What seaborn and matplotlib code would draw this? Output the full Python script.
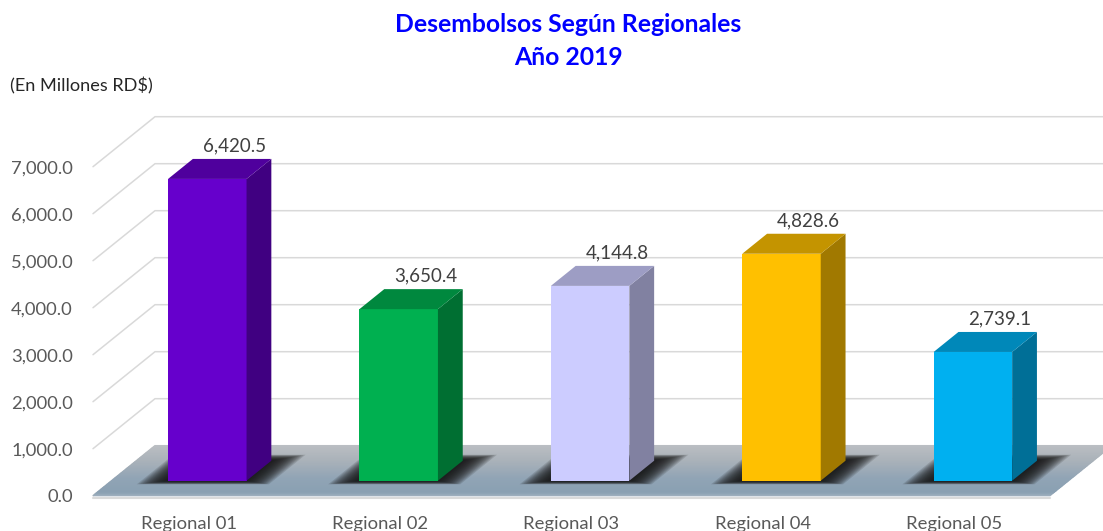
import numpy as np
import pandas as pd
import matplotlib
matplotlib.use("Agg")
import matplotlib.pyplot as plt
import seaborn as sns
from matplotlib.patches import Polygon
from matplotlib.transforms import ScaledTranslation
from matplotlib.colors import to_rgb

# datos del grafico
regionales = ["Regional 01", "Regional 02", "Regional 03", "Regional 04", "Regional 05"]
desembolsos = [6420.5, 3650.4, 4144.8, 4828.6, 2739.1]
colores = ["#6600CC", "#00B050", "#CCCCFF", "#FFC000", "#00B0F0"]
ticks_y = [0, 1000, 2000, 3000, 4000, 5000, 6000, 7000]

W, H, DPI = 1103, 531, 100
PX_CAT = 191.4          # pixeles por categoria
PX_VAL = 0.047          # pixeles por unidad de valor
DX = 62 / PX_CAT        # profundidad total del piso (en unidades de datos)
DY = 50 / PX_VAL
F = 0.3                 # posicion del frente de las barras en la profundidad
PROF = 0.4              # profundidad de cada barra
ANCHO = 0.41


def proj(x, v, t):
    # t = 0 frente del piso, t = 1 pared del fondo
    return x + (t - F) * DX, v + (t - F) * DY


def oscurecer(c, f):
    r, g, b = to_rgb(c)
    return (r * f, g * f, b * f)


sns.set_style("white")
plt.rcParams["font.family"] = ["Lato", "DejaVu Sans"]

fig = plt.figure(figsize=(W / DPI, H / DPI), dpi=DPI)
y_min, y_max = -400, 8000
ax = fig.add_axes([111.6 / W, (H - 480.7 - (-y_min) * PX_VAL) / H,
                   5 * PX_CAT / W, (y_max - y_min) * PX_VAL / H])

df = pd.DataFrame({"regional": regionales, "monto": desembolsos})
sns.barplot(data=df, x="regional", y="monto", hue="regional", palette=colores,
            saturation=1, width=ANCHO, dodge=False, legend=False, linewidth=0, ax=ax)

# lineas de division (pared lateral y del fondo)
for v in ticks_y:
    p0 = proj(-0.5, v, 0)
    p1 = proj(-0.5, v, 1)
    p2 = proj(4.6, v, 1)
    ax.plot([p0[0], p1[0], p2[0]], [p0[1], p1[1], p2[1]], color="#D9D9D9",
            lw=1.1, zorder=0, clip_on=False)

# piso con degradado (franjas de frente a fondo)
paradas = [(0.0, "#A0B1BF"), (0.08, "#8AA0B2"), (0.35, "#90A4B5"), (0.7, "#A9B1B9"), (1.0, "#BABEC2")]
n_fr = 40
for i in range(n_fr):
    t0, t1 = i / n_fr, (i + 1) / n_fr
    tm = (t0 + t1) / 2
    c = [np.interp(tm, [p for p, _ in paradas], [to_rgb(cc)[k] for _, cc in paradas]) for k in range(3)]
    franja = [proj(-0.5, 0, t0), proj(4.5, 0, t0), proj(4.5, 0, t1), proj(-0.5, 0, t1)]
    ax.add_patch(Polygon(franja, closed=True, facecolor=c, edgecolor=c, linewidth=0.9,
                         zorder=1, clip_on=False))
frente_izq, frente_der = proj(-0.5, 0, 0), proj(4.5, 0, 0)
ax.plot([frente_izq[0], frente_der[0]], [frente_izq[1] - 45, frente_der[1] - 45],
        color="#DADADA", lw=1.5, zorder=1, clip_on=False)

# sombras, caras laterales y superiores
bdx, bdy = PROF * DX, PROF * DY
barras = ax.patches[:len(desembolsos)]
for p, color in zip(barras, colores):
    x0, w, h = p.get_x(), p.get_width(), p.get_height()
    x1 = x0 + w
    p.set_zorder(4)
    n = 16
    for k in range(n):
        e = 0.14 * (1 - k / n)
        et = 0.12 * (1 - k / n)
        sombra = [proj(x0 - e, 0, F - et * 0.6), proj(x1 + e, 0, F - et * 0.6),
                  proj(x1 + e, 0, F + PROF + et), proj(x0 - e, 0, F + PROF + et)]
        ax.add_patch(Polygon(sombra, closed=True, facecolor="#151515", edgecolor="none",
                             alpha=0.14, zorder=2, clip_on=False))
    lado = [(x1, 0), (x1, h), (x1 + bdx, h + bdy), (x1 + bdx, bdy)]
    tapa = [(x0, h), (x1, h), (x1 + bdx, h + bdy), (x0 + bdx, h + bdy)]
    ax.add_patch(Polygon(lado, closed=True, facecolor=oscurecer(color, 0.63),
                         edgecolor="none", zorder=4))
    ax.add_patch(Polygon(tapa, closed=True, facecolor=oscurecer(color, 0.77),
                         edgecolor="none", zorder=4))
    ax.annotate(f"{h:,.1f}", xy=(x0 + w / 2 + bdx, h + bdy), xytext=(1.5, 9.5),
                textcoords="offset points", ha="center", va="center",
                fontsize=13.5, color="#404040", zorder=5)

ax.set_xlim(-0.5, 4.5)
ax.set_ylim(y_min, y_max)
ax.set_yticks([proj(0, v, 0)[1] for v in ticks_y], [f"{v:,.1f}" for v in ticks_y])
ax.tick_params(axis="y", length=0, pad=28, labelsize=13.2, labelcolor="#595959")
ax.tick_params(axis="x", length=0, pad=12, labelsize=13.3, labelcolor="#595959")
desplazar = ScaledTranslation(-18.6 / DPI, 0, fig.dpi_scale_trans)
for lab in ax.get_xticklabels():
    lab.set_transform(lab.get_transform() + desplazar)
ax.set_xlabel("")
ax.set_ylabel("")
sns.despine(ax=ax, left=True, bottom=True)

fig.text(568 / W, 1 - 32.3 / H, "Desembolsos Según Regionales", ha="center",
         va="baseline", fontsize=17.8, fontweight="bold", color="#0000FF")
fig.text(568 / W, 1 - 65 / H, "Año 2019", ha="center", va="baseline",
         fontsize=17.8, fontweight="bold", color="#0000FF")
fig.text(10 / W, 1 - 86 / H, "(En Millones RD$)", ha="left", va="center",
         fontsize=13.1, color="#262626")

fig.savefig("out.png", dpi=DPI)
